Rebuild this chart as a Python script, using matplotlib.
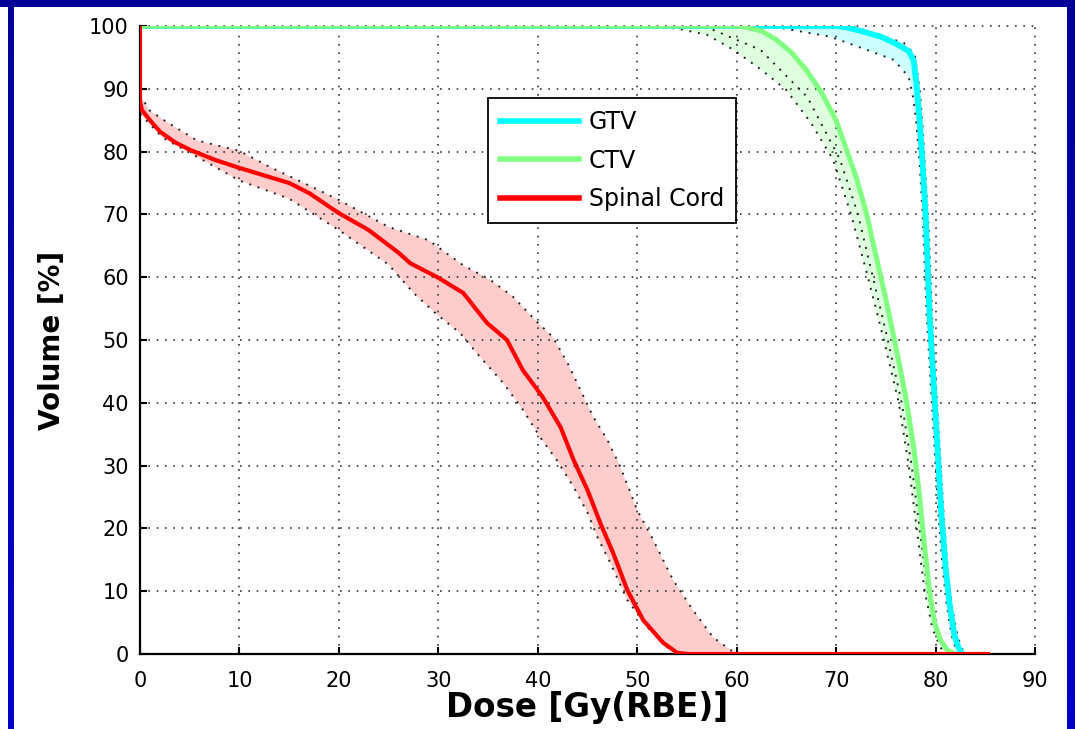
import numpy as np
import matplotlib
matplotlib.use("Agg")
import matplotlib.pyplot as plt
from matplotlib.lines import Line2D
from matplotlib.colors import LinearSegmentedColormap

# ---- Dose-volume histogram data (dose in Gy(RBE), volume in %) ----
labels = ["GTV", "CTV", "Spinal Cord"]
colors = ["#00ffff", "#80ff80", "#ff0000"]
fill_colors = ["#ccffff", "#ddffdd", "#ffcccc"]

# Spinal cord: mean curve and band edges
cord_dose = [0, 0, 0.2, 1, 2, 3.5, 5, 7.5, 10, 12.5, 15, 17, 20, 23, 26, 27.2, 29.9,
             32.5, 34.9, 36.9, 38.5, 40.5, 42.3, 43.6, 45, 46.3, 47.6, 49, 50.6,
             52.6, 54, 55, 70, 85.5]
cord_vol = [100, 88, 86.6, 85, 83.2, 81.5, 80.3, 78.7, 77.4, 76.2, 75.0, 73.4, 70.2,
            67.5, 63.9, 62.2, 60.0, 57.5, 52.7, 50.0, 45.2, 40.9, 36.1, 30.9, 26.1,
            20.8, 16.0, 10.2, 5.4, 1.8, 0.2, 0, 0, 0]
cord_hi_dose = [0, 1, 2.7, 5.7, 10, 13, 17, 20, 25, 29, 32.5, 35.2, 37.5, 39.9, 41.5,
                43, 44.3, 45.6, 47, 48.3, 50, 51.6, 53.6, 55.6, 57.6, 59.4, 60.5]
cord_hi_vol = [89, 86.5, 84.7, 81.8, 80.1, 77.6, 74.6, 72.3, 68.0, 65.9, 61.9, 59.6,
               56.9, 52.9, 50.5, 46.3, 42.0, 37.7, 34.1, 29.8, 22.9, 18.2, 11.8, 7.0,
               2.7, 0.6, 0]
cord_lo_dose = [0, 2.3, 5.7, 10, 15, 20, 25, 27.5, 29.9, 32.2, 34.2, 36.5, 38.5, 40.2,
                41.9, 43.6, 45, 46, 47.3, 49, 51, 53, 54.3]
cord_lo_vol = [86, 82.2, 79.2, 75.4, 72.5, 67.5, 62.0, 57.5, 54.0, 51.1, 47.3, 43.2,
               38.9, 34.6, 30.9, 26.6, 22.5, 18.6, 14.5, 8.6, 4.3, 1.1, 0]

# GTV: mean curve and band edges
gtv_dose = [0, 70, 71, 72.5, 74.5, 76, 77.3, 77.8, 78.1, 78.4, 78.7, 79.0, 79.2, 79.4,
            79.7, 80.0, 80.3, 80.6, 81.0, 81.4, 81.9, 82.3, 82.7]
gtv_vol = [100, 100, 99.8, 99.2, 98.3, 97.2, 96.0, 94.5, 90.5, 85, 78, 70, 62, 54,
           46, 38, 30, 22, 14, 8, 3, 1, 0]
gtv_lo_dose = [62, 64.4, 69.4, 73.1, 75.8, 77.3, 77.8, 78.1, 78.4, 78.7, 78.9, 79.1,
               79.4, 79.7, 80.0, 80.3, 80.7, 81.1, 81.6, 82.0, 82.4]
gtv_lo_vol = [100, 99.7, 98.3, 96.2, 94.6, 91.9, 88.2, 84, 78, 70, 62, 54, 46, 38, 30,
              22, 14, 8, 3, 1, 0]
gtv_hi_dose = [70, 72, 76.8, 77.9, 78.4, 78.7, 79.0, 79.3, 79.5, 79.7, 80.0, 80.3, 80.6,
               80.9, 81.3, 81.7, 82.2, 82.6, 83.0]
gtv_hi_vol = [100, 99.8, 97.3, 95.5, 90, 84, 76, 68, 60, 52, 44, 36, 28, 20, 12, 7, 3,
              1, 0]

# CTV: mean curve and band edges
ctv_dose = [0, 60, 61, 62.5, 64, 65.5, 67, 68.5, 70, 71, 72, 73, 74, 75, 76, 77, 77.8,
            78.4, 78.9, 79.4, 79.9, 80.5, 81.2, 82]
ctv_vol = [100, 100, 99.8, 99.2, 97.8, 95.8, 93, 89.5, 85, 80.5, 76, 70.5, 63.5, 56.5,
           49, 41, 33, 25, 17, 10, 5, 2.2, 0.6, 0]
ctv_lo_dose = [50, 54, 57, 59.7, 62.5, 65, 67.5, 69.7, 71.5, 73.2, 74.8, 76.3, 77.3,
               78.1, 78.9, 79.7, 80.5, 81.2]
ctv_lo_vol = [100, 99.6, 98.6, 96.2, 93, 89.8, 84.5, 78.7, 70, 60, 50, 40, 30, 20, 10,
              4, 1, 0]
ctv_mid_dose = [55, 57.3, 62.4, 67.1, 70.4, 72.2, 73.7, 75.2, 76.6, 77.6, 78.4, 79.2,
                80.0, 80.8, 81.5]
ctv_mid_vol = [100, 99.6, 96.2, 88.7, 78.7, 70, 60, 50, 40, 30, 20, 10, 4, 1, 0]

W, H = 1075, 729
fig = plt.figure(figsize=(W / 100, H / 100), dpi=100)
fig.patch.set_facecolor("white")


def frame_band(x0, y0, x1, y1, c_top, c_bot):
    bax = fig.add_axes([x0 / W, 1 - y1 / H, (x1 - x0) / W, (y1 - y0) / H])
    cmap = LinearSegmentedColormap.from_list("band", [c_top, c_bot])
    bax.imshow(np.linspace(0, 1, 256)[:, None], aspect="auto", cmap=cmap,
               extent=[0, 1, 0, 1], interpolation="bilinear")
    bax.axis("off")


frame_band(0, 0, W, 7, "#000099", "#000099")
frame_band(8, 7, 14, H, "#000099", "#0000cc")
frame_band(1067, 0, W, H, "#000099", "#0000cc")

ax = fig.add_axes([140 / W, 1 - 654 / H, 895 / W, 628 / H])
ax.set_xlim(0, 90)
ax.set_ylim(0, 100)


def band(lo_x, lo_y, hi_x, hi_y, fc):
    px = list(lo_x) + list(hi_x)[::-1]
    py = list(lo_y) + list(hi_y)[::-1]
    ax.fill(px, py, color=fc, lw=0, zorder=1)


dot = (0, (1, 3.5))
# uncertainty bands
band(cord_lo_dose, cord_lo_vol, cord_hi_dose, cord_hi_vol, fill_colors[2])
band(gtv_lo_dose, gtv_lo_vol, gtv_hi_dose, gtv_hi_vol, fill_colors[0])
band(ctv_lo_dose, ctv_lo_vol, ctv_dose, ctv_vol, fill_colors[1])

for xs, ys in [(cord_lo_dose, cord_lo_vol), (cord_hi_dose, cord_hi_vol),
               (gtv_lo_dose, gtv_lo_vol), (gtv_hi_dose, gtv_hi_vol),
               (ctv_lo_dose, ctv_lo_vol), (ctv_mid_dose, ctv_mid_vol)]:
    ax.plot(xs, ys, ls=dot, color="#222222", lw=1.4, zorder=2.6)

# mean curves (GTV under CTV on the shared 100 % plateau)
ax.plot(gtv_dose, gtv_vol, color=colors[0], lw=4.2, zorder=3.0, solid_capstyle="butt")
ax.plot(ctv_dose, ctv_vol, color=colors[1], lw=3.6, zorder=3.1, solid_capstyle="butt")
ax.plot(cord_dose, cord_vol, color=colors[2], lw=3.0, zorder=3.2, solid_capstyle="butt")

ax.set_xticks(range(0, 91, 10))
ax.set_yticks(range(0, 101, 10))
ax.set_axisbelow(False)
ax.grid(True, ls=(0, (1, 4)), color="#333333", lw=1.2)
for gl in ax.get_xgridlines() + ax.get_ygridlines():
    gl.set_clip_on(False)
    gl.set_zorder(2.5)

for s in ["top", "right"]:
    ax.spines[s].set_visible(False)
for s in ["left", "bottom"]:
    ax.spines[s].set_linewidth(1.6)
    ax.spines[s].set_zorder(2.9)
ax.tick_params(axis="both", direction="in", length=5, width=1.5, labelsize=15,
               colors="black")
ax.tick_params(axis="x", pad=12)
ax.tick_params(axis="y", pad=8)

ax.set_xlabel("Dose [Gy(RBE)]", fontsize=23.5, fontweight="bold", labelpad=0)
ax.set_ylabel("Volume [%]", fontsize=20, fontweight="bold", labelpad=17)

handles = [Line2D([], [], color=c, lw=4) for c in colors]
leg = ax.legend(handles, labels, loc="upper left", bbox_to_anchor=(0.389, 0.885),
                frameon=True, fancybox=False, edgecolor="black", framealpha=1,
                fontsize=17, handlelength=3.35, handletextpad=0.4, labelspacing=0.62,
                borderpad=0.5, borderaxespad=0)
leg.get_frame().set_linewidth(1.3)
leg.set_zorder(5)

fig.savefig("out.png", dpi=100)
